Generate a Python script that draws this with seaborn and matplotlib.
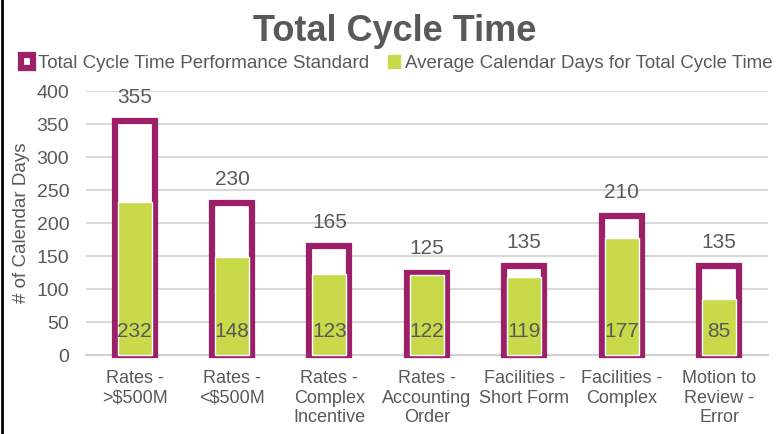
import matplotlib
matplotlib.use("Agg")
import matplotlib.pyplot as plt
from matplotlib.patches import Patch
from matplotlib.lines import Line2D
import numpy as np
import pandas as pd
import seaborn as sns

# data
categories = ["Rates -\n>$500M", "Rates -\n<$500M", "Rates -\nComplex\nIncentive",
              "Rates -\nAccounting\nOrder", "Facilities -\nShort Form",
              "Facilities -\nComplex", "Motion to\nReview -\nError"]
standard = [355, 230, 165, 125, 135, 210, 135]
average = [232, 148, 123, 122, 119, 177, 85]

purple = "#9B2068"
green = "#C9D94A"
text_gray = "#595959"

df = pd.DataFrame({"category": categories, "standard": standard, "average": average})

sns.set_style("white")
plt.rcParams["font.family"] = ["Liberation Sans", "DejaVu Sans"]

fig = plt.figure(figsize=(7.81, 4.34), dpi=100)
ax = fig.add_axes([0.110, 0.182, 0.873, 0.608])

# performance standard (hollow bars)
sns.barplot(data=df, x="category", y="standard", color="white", edgecolor=purple,
            linewidth=4.5, width=0.41, ax=ax, zorder=3)
# average days (filled bars)
sns.barplot(data=df, x="category", y="average", color=green, saturation=1,
            width=0.35, ax=ax, zorder=4)
for p in ax.patches:
    p.set_clip_on(False)

ax.set_ylim(0, 400)
ax.set_xlim(-0.5, len(categories) - 0.5)
ax.set_yticks(np.arange(0, 401, 50))
ax.yaxis.grid(True, color="#D9D9D9", linewidth=1.5, zorder=0)
ax.set_axisbelow(True)

for s in ["top", "right", "left"]:
    ax.spines[s].set_visible(False)
ax.spines["bottom"].set_color("#D0D0D0")
ax.spines["bottom"].set_linewidth(1.5)

ax.set_xticks(np.arange(len(categories)))
ax.set_xticklabels(categories, fontsize=13, color=text_gray, linespacing=1.2)
ax.set_xticks(np.arange(-0.5, len(categories)), minor=True)
ax.tick_params(axis="x", which="major", length=0, pad=11)
ax.tick_params(axis="x", which="minor", length=5, color="#D0D0D0", width=1.5)
ax.tick_params(axis="y", length=0, labelsize=14, labelcolor=text_gray, pad=12)
ax.set_xlabel("")
ax.set_ylabel("# of Calendar Days", fontsize=13.5, color=text_gray, labelpad=5)

# labels
for i, (s, a) in enumerate(zip(standard, average)):
    ax.text(i, s + 36, str(s), ha="center", va="center", fontsize=15, color=text_gray)
    ax.text(i, 35, str(a), ha="center", va="center", fontsize=15, color=text_gray, zorder=5)

fig.suptitle("Total Cycle Time", x=0.505, y=0.968, fontsize=26, fontweight="bold",
             color=text_gray)

handles = [Patch(facecolor="white", edgecolor=purple, linewidth=4.5),
           Patch(facecolor=green, edgecolor=green)]
labels = ["Total Cycle Time Performance Standard",
          "Average Calendar Days for Total Cycle Time"]
fig.legend(handles, labels, loc="center", bbox_to_anchor=(0.508, 0.853), ncol=2,
           frameon=False, fontsize=13.5, labelcolor=text_gray, handlelength=0.65,
           handleheight=0.65, handletextpad=0.25, columnspacing=1.0,
           borderpad=0.1)

# left border of the picture
fig.add_artist(Line2D([0.002, 0.002], [0, 1], color="black", linewidth=2,
                      transform=fig.transFigure))

fig.savefig("out.png", dpi=100)
